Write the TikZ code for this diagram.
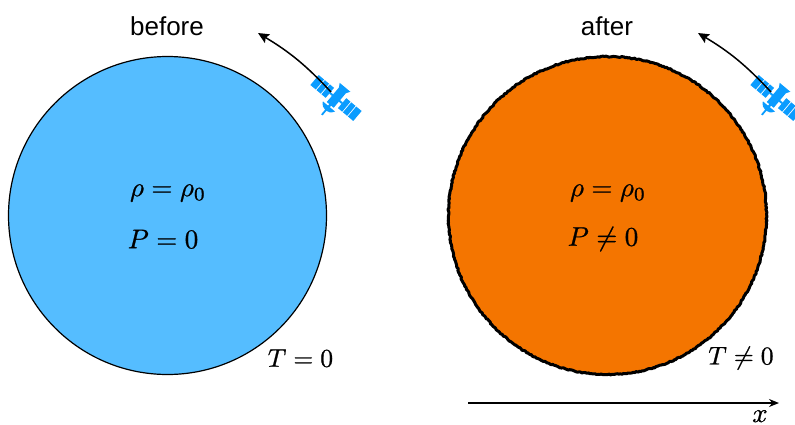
\documentclass[tikz,border=0pt]{standalone}
\usepackage{fontspec}
\setmainfont{Liberation Sans}
\usetikzlibrary{arrows.meta,decorations.pathmorphing}
\definecolor{coldblue}{HTML}{55BDFF}
\definecolor{hotorange}{HTML}{F47500}
\definecolor{satblue}{HTML}{0A9CFF}
\newcommand{\heavy}[1]{\special{pdf:code q 2 Tr 0.09 w}#1\special{pdf:code Q 0 Tr}}
\tikzset{
  mathlabel/.style={inner sep=0pt,scale=2.7},
  smallmath/.style={inner sep=0pt,scale=2.55},
  titlelabel/.style={inner sep=0pt,font=\fontsize{26}{30}\selectfont},
  orbit/.style={line width=1.5pt,-{Stealth[length=11pt,width=10pt,inset=2pt]}},
  pics/satellite/.style={code={
    \begin{scope}[rotate=-40]
      % upper panel
      \fill[satblue] (-28,-6.5) rectangle (-21,6.5);
      \fill[satblue] (-20,-6.5) rectangle (-14.5,6.5);
      \fill[satblue] (-13.5,-6.5) rectangle (-8,6.5);
      \fill[satblue] (-8,-1) rectangle (-4,1);
      % lower panel
      \fill[satblue] (8,-6.5) rectangle (13.5,6.5);
      \fill[satblue] (14.5,-6.5) rectangle (20,6.5);
      \fill[satblue] (21,-6.5) rectangle (28,6.5);
      \fill[satblue] (4,-1) rectangle (8,1);
      % body
      \fill[satblue] (-4.5,-11) rectangle (4.5,9);
      \fill[satblue] (-7,-14) -- (7,-14) -- (4.5,-10) -- (-4.5,-10) -- cycle;
      % antenna dish
      \fill[satblue] (-1.2,8) rectangle (1.2,12);
      \fill[satblue] (-8,11) -- (8,11) .. controls (4,18) and (-4,18) .. (-8,11) -- cycle;
      \fill[satblue] (-0.9,15) rectangle (0.9,22);
    \end{scope}
  }}
}
\begin{document}
\begin{tikzpicture}[x=1pt,y=-1pt]
\useasboundingbox (0,0) rectangle (795,424);
\begin{scope}
\clip (0,0) rectangle (795,424);
% before
\node[circle,draw=black,line width=1.2pt,fill=coldblue,minimum size=318pt,inner sep=0pt] (coldball) at (167.5,215.5) {};
\pic at (336,98) {satellite};
\coordinate (sata) at (331,92);
\coordinate (tipa) at (258,33);
\draw[orbit] (sata) to[bend right=8] (tipa);
\node[titlelabel] (beforelabel) at (167,26) {before};
\node[mathlabel] (rhoa) at (168,193) {\heavy{$\rho=\rho_0$}};
\node[mathlabel] (pa) at (163,239) {\heavy{$P=0$}};
\node[smallmath] (ta) at (300.5,358) {\heavy{$T=0$}};
% after
\fill[hotorange] (607.5,215.5) circle[radius=159pt];
\draw[black,line width=3pt,line join=round,decorate,decoration={random steps,segment length=1.6pt,amplitude=0.6pt}] (607.5,215.5) circle[radius=159pt];
\pic at (776,98) {satellite};
\coordinate (satb) at (771,92);
\coordinate (tipb) at (698,33);
\draw[orbit] (satb) to[bend right=8] (tipb);
\node[titlelabel] (afterlabel) at (607,26) {after};
\node[mathlabel] (rhob) at (608,193) {\heavy{$\rho=\rho_0$}};
\node[mathlabel] (pb) at (603,239) {\heavy{$P\neq 0$}};
\node[smallmath] (tb) at (741,358) {\heavy{$T\neq 0$}};
% axis
\coordinate (axstart) at (468,403);
\coordinate (axend) at (779,403);
\draw[line width=1.5pt,-{Stealth[length=10pt,width=8pt]}] (axstart) -- (axend);
\node[mathlabel,anchor=base] (xlabel) at (760,422) {\heavy{$x$}};
\end{scope}
\end{tikzpicture}
\end{document}
